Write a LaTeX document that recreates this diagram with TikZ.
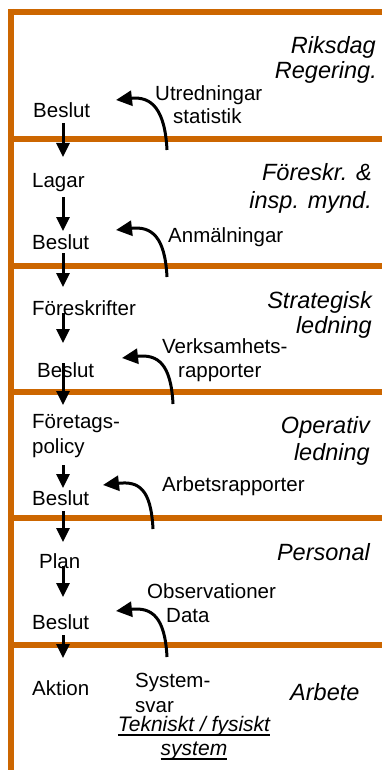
\documentclass[tikz,border=0pt]{standalone}
\usepackage{fontspec}
\setmainfont{Liberation Sans}
\usetikzlibrary{arrows.meta}
\definecolor{orng}{RGB}{204,102,0}
\tikzset{
  band/.style={draw=orng, line width=6pt},
  lbl/.style={inner sep=0pt, font=\fontsize{20.5}{24}\selectfont},
  rlbl/.style={inner sep=0pt, font=\fontsize{23.5}{28}\selectfont\itshape},
  slbl/.style={inner sep=0pt, font=\fontsize{21}{25}\selectfont\itshape},
  flow/.style={line width=3pt, -{Triangle[length=14pt,width=13pt]}},
  fb/.style={line width=3pt, -{Triangle[length=16pt,width=15pt]}},
  uline/.style={line width=1.6pt}
}
\begin{document}
\begin{tikzpicture}[x=1pt,y=-1pt]
\useasboundingbox (0,0) rectangle (382,770);
% frame
\coordinate (tl) at (8,12);
\coordinate (tr) at (382,12);
\coordinate (lt) at (11,9);
\coordinate (lb) at (11,770);
\draw[band] (tl) -- (tr);
\draw[band] (lt) -- (lb);
\foreach \y/\n in {139/b1,266/b2,392/b3,518/b4,645/b5}{
  \coordinate (\n w) at (11,\y);
  \coordinate (\n e) at (382,\y);
  \draw[band] (\n w) -- (\n e);
}
% row 1
\node[rlbl, anchor=base east] (riks) at (376,54) {Riksdag};
\begin{scope}
  \clip (200,60) rectangle (382,84);
  \node[rlbl, anchor=base east] (reg) at (377,79) {Regering.};
\end{scope}
\node[lbl, anchor=base west] (bes1) at (33,118) {Beslut};
\node[lbl, anchor=base west] (utr) at (155,101) {Utredningar};
\node[lbl, anchor=base west] (stat) at (173,124) {statistik};
% row 2
\node[rlbl, anchor=base east] (fore) at (372,181) {Föreskr. \&};
\node[rlbl, anchor=base east] (insp) at (372,208) {insp. mynd.};
\node[lbl, anchor=base west] (lag) at (32,187) {Lagar};
\node[lbl, anchor=base west] (bes2) at (32,249) {Beslut};
\node[lbl, anchor=base west] (anm) at (168,242) {Anmälningar};
% row 3
\node[rlbl, anchor=base east] (strat) at (372,308) {Strategisk};
\begin{scope}
  \clip (200,312) rectangle (382,337);
  \node[rlbl, anchor=base east] (led1) at (372,333) {ledning};
\end{scope}
\node[lbl, anchor=base west] (fsk) at (32,315) {Föreskrifter};
\node[lbl, anchor=base west] (bes3) at (37,377) {Beslut};
\node[lbl, anchor=base west] (verk) at (162,353) {Verksamhets-};
\node[lbl, anchor=base west] (rapp) at (178,377) {rapporter};
% row 4
\node[rlbl, anchor=base east] (oper) at (370,433) {Operativ};
\begin{scope}
  \clip (200,439) rectangle (382,465);
  \node[rlbl, anchor=base east] (led2) at (370,460) {ledning};
\end{scope}
\node[lbl, anchor=base west] (ftg) at (32,428) {Företags-};
\node[lbl, anchor=base west] (pol) at (32,453) {policy};
\node[lbl, anchor=base west] (bes4) at (32,505) {Beslut};
\node[lbl, anchor=base west] (arb) at (162,491) {Arbetsrapporter};
% row 5
\node[rlbl, anchor=base east] (pers) at (370,560) {Personal};
\node[lbl, anchor=base west] (plan) at (39,568) {Plan};
\node[lbl, anchor=base west] (obs) at (147,598) {Observationer};
\node[lbl, anchor=base west] (data) at (166,622) {Data};
\node[lbl, anchor=base west] (bes5) at (32,629) {Beslut};
% row 6
\node[lbl, anchor=base west] (akt) at (32,695) {Aktion};
\node[lbl, anchor=base west] (sys) at (135,687) {System-};
\node[lbl, anchor=base west] (svar) at (135,712) {svar};
\node[rlbl, anchor=base west] (arbe) at (290,700) {Arbete};
\node[slbl, anchor=base] (tek) at (194,731) {Tekniskt / fysiskt};
\node[slbl, anchor=base] (syst) at (194,755) {system};
\draw[uline] ([yshift=-4pt]tek.base west) -- ([yshift=-4pt]tek.base east);
\draw[uline] ([yshift=-4pt]syst.base west) -- ([yshift=-4pt]syst.base east);
% downward flow arrows
\foreach \a/\b/\n in {123/157/d1,197/231/d2,253/287/d3,313/343/d4,363/405/d5,465/488/d6,511/542/d7,566/597/d8,635/658/d9}{
  \coordinate (\n s) at (63,\a);
  \coordinate (\n t) at (63,\b);
  \draw[flow] (\n s) -- (\n t);
}
% feedback curves
\foreach \sx/\sy/\tx/\ty/\n in {167/150/116/100/f1,167/277/116/230/f2,173/404/122/358/f3,153/529/103/485/f4,167/657/116/611/f5}{
  \coordinate (\n s) at (\sx,\sy);
  \coordinate (\n t) at (\tx,\ty);
  \draw[fb] (\n s) .. controls ([shift={(-2,-40)}]\n s) and ([shift={(36,-4)}]\n t) .. (\n t);
}
\end{tikzpicture}
\end{document}
